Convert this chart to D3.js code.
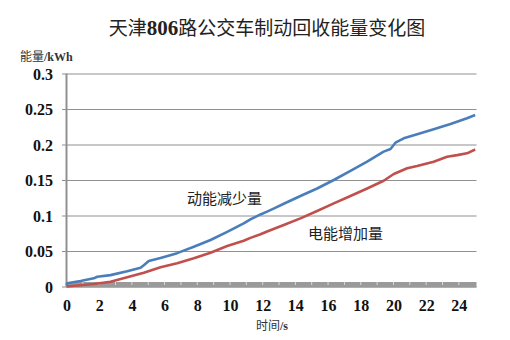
<!DOCTYPE html>
<html><head><meta charset="utf-8">
<script src="https://cdn.jsdelivr.net/npm/d3@7"></script>
<style>html,body{margin:0;padding:0;background:#fff;}svg{display:block;}</style>
</head><body>
<svg id="chart" width="510" height="340"></svg>
<script>
const titleText = ["天津", "806", "路公交车制动回收能量变化图"];
const yAxisLabel = "能量/kWh";
const xAxisLabel = "时间/s";
const seriesNames = ["动能减少量", "电能增加量"];
const yTicks = [0, 0.05, 0.1, 0.15, 0.2, 0.25, 0.3];
const yTickLabels = ["0", "0.05", "0.1", "0.15", "0.2", "0.25", "0.3"];
const xTicks = [0, 2, 4, 6, 8, 10, 12, 14, 16, 18, 20, 22, 24];

const kineticT = [0, 0.04, 0.86, 1.67, 1.88, 2.69, 3.71, 4.53, 4.73, 5.03, 5.75, 6.77, 7.79, 8.81, 9.83, 10.84, 11.25, 11.87, 12.27, 12.7, 13.29, 14.31, 15.33, 16.35, 17.37, 18.39, 19.4, 19.82, 20.12, 20.63, 21.45, 22.46, 23.49, 24.5, 25.0];
const kineticV = [0.002, 0.0045, 0.0077, 0.0115, 0.0138, 0.016, 0.0214, 0.0265, 0.030, 0.036, 0.040, 0.047, 0.056, 0.0655, 0.077, 0.089, 0.0946, 0.1015, 0.1055, 0.110, 0.1165, 0.1275, 0.138, 0.150, 0.163, 0.176, 0.190, 0.1937, 0.2025, 0.2087, 0.2144, 0.2214, 0.2289, 0.237, 0.2415];
const electricT = [0, 0.5, 1.67, 2.69, 3.71, 4.73, 5.75, 6.77, 7.79, 8.81, 9.83, 10.84, 11.25, 11.87, 12.27, 13.29, 14.31, 15.33, 16.35, 17.37, 18.39, 19.4, 20.02, 20.84, 21.45, 22.46, 23.28, 23.9, 24.5, 25.0];
const electricV = [0, 0.001, 0.0035, 0.0068, 0.013, 0.0195, 0.027, 0.0327, 0.0397, 0.0476, 0.057, 0.0645, 0.0685, 0.0735, 0.0775, 0.0866, 0.096, 0.1063, 0.117, 0.1275, 0.138, 0.149, 0.1585, 0.1665, 0.1697, 0.1758, 0.1828, 0.185, 0.1876, 0.193];

const svg = d3.select("#chart");
const x = d3.scaleLinear().domain([0, 25.08]).range([66.5, 476.5]);
const y = d3.scaleLinear().domain([0, 0.3]).range([286.5, 73.5]);
const serif = "'Liberation Serif','DejaVu Serif',serif";
const cjk = "'Noto Sans CJK SC','Noto Sans CJK JP',sans-serif";

// title
const title = svg.append("text").attr("x", 267).attr("y", 35).attr("text-anchor", "middle")
  .attr("font-size", 19).attr("fill", "#222");
title.append("tspan").attr("font-family", cjk).text(titleText[0]);
title.append("tspan").attr("font-family", serif).attr("font-weight", "bold").attr("font-size", 21).text(titleText[1]);
title.append("tspan").attr("font-family", cjk).text(titleText[2]);

// y label
const yl = svg.append("text").attr("x", 20).attr("y", 61).attr("font-size", 12).attr("fill", "#333");
yl.append("tspan").attr("font-family", cjk).text(yAxisLabel.slice(0, 2));
yl.append("tspan").attr("font-family", serif).attr("font-weight", "bold").text(yAxisLabel.slice(2));

// gridlines + y axis
const yAxis = d3.axisLeft(y).tickValues(yTicks).tickFormat((d, i) => yTickLabels[i])
  .tickSize(-(476.5 - 62)).tickPadding(9);
const gy = svg.append("g").attr("transform", "translate(62,0)").call(yAxis);
gy.select(".domain").remove();
gy.selectAll(".tick line").attr("stroke", "#909090").attr("stroke-width", 1.2);
gy.selectAll(".tick text").attr("font-family", serif).attr("font-weight", "bold")
  .attr("font-size", 16).attr("fill", "#111").attr("dy", "0.35em");
svg.append("line").attr("x1", 66.5).attr("x2", 66.5).attr("y1", 73.5).attr("y2", 287)
  .attr("stroke", "#909090").attr("stroke-width", 2);

// x axis band
svg.append("rect").attr("x", x(0)).attr("y", 282).attr("width", x(25.08) - x(0)).attr("height", 5.5).attr("fill", "#9a9a9a");
svg.append("g").selectAll("line").data(d3.range(1, 25, 1)).join("line")
  .attr("x1", d => x(d)).attr("x2", d => x(d)).attr("y1", 282).attr("y2", 285)
  .attr("stroke", "#fff").attr("stroke-width", 0.8).attr("opacity", 0.8);

const xAxis = d3.axisBottom(x).tickValues(xTicks).tickSize(0).tickPadding(0).tickFormat(d3.format("d"));
const gx = svg.append("g").attr("transform", "translate(0,300)").call(xAxis);
gx.select(".domain").remove();
gx.selectAll(".tick text").attr("font-family", serif).attr("font-weight", "bold")
  .attr("font-size", 16).attr("fill", "#111").attr("dy", "0.71em");

// x label
const xl = svg.append("text").attr("x", 272).attr("y", 330).attr("text-anchor", "middle").attr("font-size", 12).attr("fill", "#333");
xl.append("tspan").attr("font-family", cjk).text(xAxisLabel.slice(0, 2));
xl.append("tspan").attr("font-family", serif).attr("font-weight", "bold").text(xAxisLabel.slice(2));

// lines
const line = d3.line().x(d => x(d[0])).y(d => y(d[1]));
svg.append("path").datum(electricT.map((t, i) => [t, electricV[i]])).attr("d", line)
  .attr("fill", "none").attr("stroke", "#c0504d").attr("stroke-width", 2.6).attr("stroke-linejoin", "round");
svg.append("path").datum(kineticT.map((t, i) => [t, kineticV[i]])).attr("d", line)
  .attr("fill", "none").attr("stroke", "#4a7ebb").attr("stroke-width", 2.6).attr("stroke-linejoin", "round");

// annotations
svg.append("text").attr("x", 187).attr("y", 204).attr("font-family", cjk).attr("font-size", 15).attr("fill", "#222").text(seriesNames[0]);
svg.append("text").attr("x", 308).attr("y", 239).attr("font-family", cjk).attr("font-size", 15).attr("fill", "#222").text(seriesNames[1]);
</script>
</body></html>
